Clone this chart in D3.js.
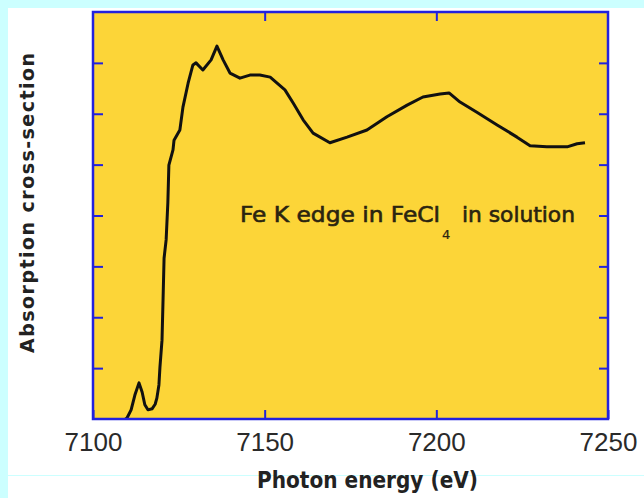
<!DOCTYPE html>
<html>
<head>
<meta charset="utf-8">
<script src="https://cdn.jsdelivr.net/npm/d3@7"></script>
<style>
  body { margin: 0; background: #ccffff; }
  svg { display: block; }
</style>
</head>
<body>
<script>
// Fe K edge XANES spectrum (y in arbitrary units 0..8)
const energy = [7108.5, 7109.9, 7111.1, 7112.2, 7113.4, 7114.3, 7115.1, 7116.0, 7117.2, 7118.1,
  7118.6, 7119.2, 7119.5, 7120.1, 7120.4, 7120.7, 7121.3, 7121.8, 7122.1, 7123.3,
  7123.6, 7125.3, 7126.2, 7127.7, 7129.1, 7130.0, 7132.0, 7134.4, 7136.1, 7137.9,
  7139.9, 7142.8, 7145.7, 7148.6, 7151.6, 7155.9, 7158.3, 7161.2, 7164.1, 7169.0,
  7174.0, 7179.8, 7185.6, 7191.5, 7196.1, 7201.1, 7203.7, 7206.9, 7211.8, 7217.7,
  7223.5, 7227.3, 7232.2, 7238.1, 7241.0, 7243.3]
const absorption = [-0.05, 0.02, 0.18, 0.47, 0.71, 0.53, 0.28, 0.18, 0.20, 0.29,
  0.41, 0.67, 1.02, 1.55, 2.34, 3.16, 3.52, 4.25, 4.99, 5.29,
  5.48, 5.68, 6.13, 6.60, 6.96, 7.00, 6.86, 7.06, 7.33, 7.06,
  6.80, 6.70, 6.76, 6.76, 6.72, 6.47, 6.21, 5.88, 5.62, 5.43,
  5.54, 5.68, 5.94, 6.17, 6.33, 6.39, 6.41, 6.23, 6.03, 5.78,
  5.54, 5.37, 5.35, 5.35, 5.41, 5.43]
const xTicks = [7100, 7150, 7200, 7250]
const yTicks = [1, 2, 3, 4, 5, 6, 7]

const data = energy.map((e, i) => ({e: e, v: absorption[i]}))

const W = 644, H = 498
const margin = {top: 12, right: 36, bottom: 79, left: 93}
, width = W - margin.left - margin.right
, height = H - margin.top - margin.bottom

const svg = d3.select('body').append('svg')
    .attr('width', W)
    .attr('height', H)

// white panel with a cyan frame on top / left
svg.append('rect')
    .attr('x', 8).attr('y', 8)
    .attr('width', W - 8).attr('height', H - 8)
    .attr('fill', '#ffffff')
svg.append('line')
    .attr('x1', 8).attr('x2', W)
    .attr('y1', 475.5).attr('y2', 475.5)
    .attr('stroke', '#ccffff')
    .attr('stroke-width', 1)

const xScale = d3.scaleLinear()
    .domain([7100, 7250])
    .range([margin.left, margin.left + width])
const yScale = d3.scaleLinear()
    .domain([0, 8])
    .range([margin.top + height, margin.top])

// plot area
svg.append('rect')
    .attr('x', margin.left).attr('y', margin.top)
    .attr('width', width).attr('height', height)
    .attr('fill', '#fcd538')

svg.append('clipPath').attr('id', 'clip')
  .append('rect')
    .attr('x', margin.left).attr('y', margin.top)
    .attr('width', width).attr('height', height)

const line = d3.line()
    .x(d => xScale(d.e))
    .y(d => yScale(d.v))

svg.append('path')
    .datum(data)
    .attr('clip-path', 'url(#clip)')
    .attr('d', line)
    .attr('fill', 'none')
    .attr('stroke', '#111')
    .attr('stroke-width', 3)
    .attr('stroke-linejoin', 'round')

// axes, ticks pointing inward
const xAxis = svg.append('g')
    .attr('transform', 'translate(0,' + (margin.top + height) + ')')
    .call(d3.axisBottom(xScale).tickValues(xTicks).tickFormat(d3.format('d'))
      .tickSizeInner(-9).tickSizeOuter(0).tickPadding(14))
const xTop = svg.append('g')
    .attr('transform', 'translate(0,' + margin.top + ')')
    .call(d3.axisTop(xScale).tickValues(xTicks.slice(1, 3)).tickSizeInner(-9).tickSizeOuter(0).tickFormat(''))
const yLeft = svg.append('g')
    .attr('transform', 'translate(' + margin.left + ',0)')
    .call(d3.axisLeft(yScale).tickValues(yTicks).tickSizeInner(-10).tickSizeOuter(0).tickFormat(''))
const yRight = svg.append('g')
    .attr('transform', 'translate(' + (margin.left + width) + ',0)')
    .call(d3.axisRight(yScale).tickValues(yTicks).tickSizeInner(-9).tickSizeOuter(0).tickFormat(''))

svg.selectAll('.domain').remove()
svg.selectAll('.tick line').attr('stroke', '#2222dd').attr('stroke-width', 2)
xAxis.selectAll('.tick text')
    .style('font-family', 'Liberation Sans, Arial, sans-serif')
    .style('font-size', '26px')
    .attr('fill', '#2a2a2a')

svg.append('rect')
    .attr('x', margin.left).attr('y', margin.top)
    .attr('width', width).attr('height', height)
    .attr('fill', 'none')
    .attr('stroke', '#2222dd')
    .attr('stroke-width', 2.5)

// axis titles
svg.append('text')
    .attr('transform', 'translate(34,203)rotate(-90)')
    .attr('text-anchor', 'middle')
    .attr('textLength', 300)
    .attr('lengthAdjust', 'spacing')
    .style('font-family', 'DejaVu Sans, sans-serif')
    .style('font-size', '19px')
    .style('font-weight', 'bold')
    .attr('fill', '#222')
    .text('Absorption cross-section')

svg.append('text')
    .attr('x', 257).attr('y', 488)
    .attr('textLength', 221)
    .attr('lengthAdjust', 'spacingAndGlyphs')
    .style('font-family', 'DejaVu Sans, sans-serif')
    .style('font-size', '23px')
    .style('font-weight', 'bold')
    .attr('fill', '#222')
    .text('Photon energy (eV)')

// annotation
const note = svg.append('g')
    .style('font-family', 'DejaVu Sans, sans-serif')
    .attr('fill', '#2a2410')
    .attr('stroke', '#2a2410')
    .attr('stroke-width', 0.6)
note.append('text')
    .attr('x', 240).attr('y', 222)
    .attr('textLength', 200)
    .attr('lengthAdjust', 'spacingAndGlyphs')
    .style('font-size', '21px')
    .text('Fe K edge in FeCl')
note.append('text')
    .attr('x', 442).attr('y', 239)
    .attr('stroke-width', 0.2)
    .style('font-size', '13px')
    .text('4')
note.append('text')
    .attr('x', 462).attr('y', 222)
    .attr('textLength', 113)
    .attr('lengthAdjust', 'spacingAndGlyphs')
    .style('font-size', '21px')
    .text('in solution')
</script>
</body>
</html>
